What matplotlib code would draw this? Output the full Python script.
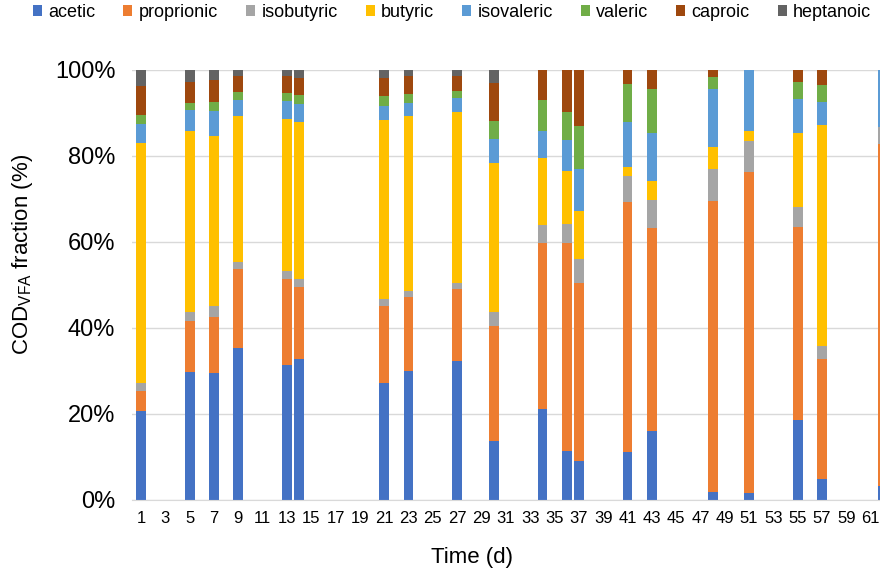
import matplotlib
matplotlib.use('Agg')
import matplotlib.pyplot as plt
import numpy as np

plt.rcParams['font.family'] = ['Liberation Sans', 'DejaVu Sans']
plt.rcParams['mathtext.default'] = 'regular'

# Sampling days (x axis is a category axis from day 1 upwards)
days = [1, 5, 7, 9, 13, 14, 21, 23, 27, 30, 34, 36, 37, 41, 43, 48, 51, 55, 57, 62]

# COD fraction (%) of each acid on every sampling day
acetic = [20.7, 29.8, 29.5, 35.3, 31.5, 32.8, 27.3, 29.9, 32.4, 13.7,
          21.2, 11.5, 9.0, 11.1, 16.0, 1.8, 1.6, 18.6, 4.8, 3.3]
proprionic = [4.6, 11.8, 13.1, 18.4, 19.8, 16.8, 17.9, 17.3, 16.7, 26.8,
              38.5, 48.3, 41.5, 58.2, 47.2, 67.7, 74.6, 45.0, 28.0, 79.4]
isobutyric = [1.8, 2.2, 2.6, 1.7, 2.0, 1.8, 1.5, 1.5, 1.4, 3.3,
              4.3, 4.3, 5.6, 6.0, 6.6, 7.5, 7.3, 4.6, 3.1, 4.1]
butyric = [56.0, 42.0, 39.5, 34.0, 35.2, 36.5, 41.7, 40.7, 39.8, 34.6,
           15.6, 12.4, 11.1, 2.1, 4.4, 5.0, 2.2, 17.2, 51.4, 0.0]
isovaleric = [4.3, 4.9, 5.8, 3.6, 4.2, 4.3, 3.2, 3.0, 3.3, 5.6,
              6.3, 7.3, 9.8, 10.4, 11.2, 13.5, 14.3, 7.8, 5.2, 13.2]
valeric = [2.1, 1.7, 2.1, 1.8, 2.0, 2.1, 2.4, 2.1, 1.6, 4.1,
           7.1, 6.4, 10.0, 8.9, 10.1, 2.9, 0.0, 3.9, 3.9, 0.0]
caproic = [6.7, 4.8, 5.1, 3.8, 3.9, 3.8, 4.2, 4.1, 3.4, 8.8,
           7.0, 9.8, 13.0, 3.3, 4.5, 1.6, 0.0, 2.9, 3.6, 0.0]
heptanoic = [3.8, 2.8, 2.3, 1.4, 1.4, 1.9, 1.8, 1.4, 1.4, 3.1,
             0.0, 0.0, 0.0, 0.0, 0.0, 0.0, 0.0, 0.0, 0.0, 0.0]

acid_names = ['acetic', 'proprionic', 'isobutyric', 'butyric',
              'isovaleric', 'valeric', 'caproic', 'heptanoic']
acid_colors = ['#4472C4', '#ED7D31', '#A5A5A5', '#FFC000',
               '#5B9BD5', '#70AD47', '#9E480E', '#636363']

# Figure is 880x573 px; the axes run on past the right edge like the original crop
fig = plt.figure(figsize=(8.8, 5.73), dpi=100)
ax = fig.add_axes([132 / 880, 73 / 573, 757 / 880, 430 / 573])

# Stack the bars and scale every day to 100 %
values = np.array([acetic, proprionic, isobutyric, butyric,
                   isovaleric, valeric, caproic, heptanoic])
values = values / values.sum(axis=0) * 100
bottom = np.zeros(len(days))
for name, color, row in zip(acid_names, acid_colors, values):
    ax.bar(days, row, bottom=bottom, width=0.8, color=color, label=name, zorder=2)
    bottom += row

# Axes styling (Excel look: light grid, no ticks, only a grey baseline)
ax.set_xlim(0.26, 62.5)
ax.set_ylim(0, 100)
ax.set_yticks(range(0, 101, 20))
ax.set_yticklabels([f'{v}%' for v in range(0, 101, 20)], fontsize=17)
ax.set_xticks(range(1, 62, 2))
ax.set_xticklabels([str(d) for d in range(1, 62, 2)], fontsize=12)
ax.tick_params(axis='both', length=0, colors='#000000')
ax.tick_params(axis='y', pad=12)
ax.tick_params(axis='x', pad=8)
ax.yaxis.grid(True, color='#D9D9D9', linewidth=1, zorder=0)
for side in ['top', 'right', 'left']:
    ax.spines[side].set_visible(False)
ax.spines['bottom'].set_color('#D9D9D9')

# Axis titles sit where they were placed in the original (not centred on the cropped axes)
ax.set_xlabel('Time (d)', fontsize=16)
ax.xaxis.set_label_coords(0.449, -0.11)
ax.set_ylabel('COD$_{VFA}$ fraction (%)', fontsize=16)
ax.yaxis.set_label_coords(-0.128, 0.572)

# Legend in one row along the top
fig.legend(loc='upper left', bbox_to_anchor=(33 / 880, 1 - 4 / 573), ncol=8,
           frameon=False, fontsize=13, handlelength=0.5, handleheight=0.5,
           handletextpad=0.35, columnspacing=1.55, borderpad=0, borderaxespad=0)

fig.savefig('out.png', dpi=100)
